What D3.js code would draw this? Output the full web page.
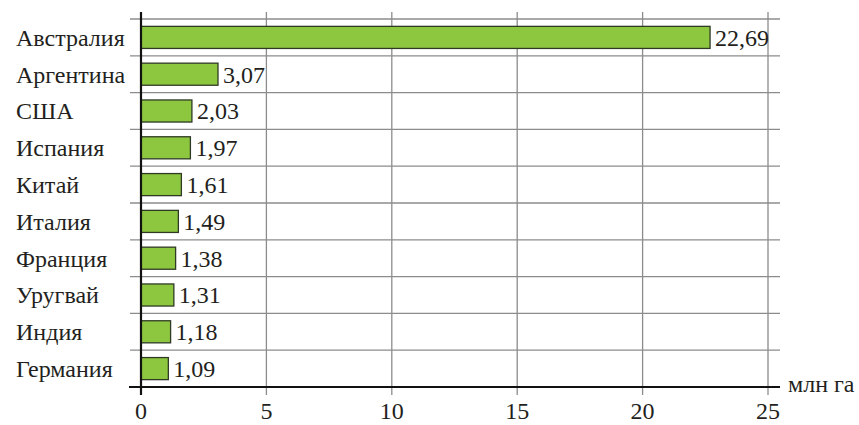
<!DOCTYPE html>
<html><head><meta charset="utf-8">
<script src="https://cdn.jsdelivr.net/npm/d3@7"></script>
<style>body{margin:0;background:#fff} text{font-family:"Liberation Serif","Times New Roman",Times,Tinos,"Noto Serif","DejaVu Serif",serif}</style>
</head><body>
<svg id="c" width="859" height="425"></svg>
<script>
const countries = ["Австралия","Аргентина","США","Испания","Китай","Италия","Франция","Уругвай","Индия","Германия"];
const values = [22.69,3.07,2.03,1.97,1.61,1.49,1.38,1.31,1.18,1.09];
const labels = ["22,69","3,07","2,03","1,97","1,61","1,49","1,38","1,31","1,18","1,09"];
const ticks = [0,5,10,15,20,25];
const unit = "млн га";

const svg = d3.select("#c");
const x = d3.scaleLinear().domain([0,25]).range([141,768]);
const y = d3.scaleBand().domain(countries).range([19,387]).paddingInner(0.4).paddingOuter(0.2);
const step = y.step();
const txtColor = "#231f20";

const bounds = countries.map(c => y(c) - (step - y.bandwidth())/2);
svg.append("g").selectAll("line").data(bounds).join("line")
  .attr("x1",130).attr("x2",780).attr("y1",d=>d).attr("y2",d=>d)
  .attr("stroke","#8c8c8c").attr("stroke-width",1.3);
svg.append("g").selectAll("line").data(ticks.slice(1)).join("line")
  .attr("x1",d=>x(d)).attr("x2",d=>x(d)).attr("y1",12).attr("y2",395)
  .attr("stroke","#8c8c8c").attr("stroke-width",1.3);

svg.append("g").selectAll("rect").data(values).join("rect")
  .attr("x",x(0)).attr("y",(d,i)=>y(countries[i]))
  .attr("width",d=>x(d)-x(0)).attr("height",y.bandwidth())
  .attr("fill","#8dc63f").attr("stroke","#2f3a25").attr("stroke-width",1.3);

svg.append("g").selectAll("text").data(values).join("text")
  .attr("x",d=>x(d)+5).attr("y",(d,i)=>y(countries[i])+y.bandwidth()/2)
  .attr("dy","0.35em").style("font-size","24px").attr("fill",txtColor)
  .text((d,i)=>labels[i]);

svg.append("g").selectAll("text").data(countries).join("text")
  .attr("x",16).attr("y",d=>y(d)+y.bandwidth()/2).attr("dy","0.35em")
  .style("font-size","24px").attr("fill",txtColor)
  .text(d=>d);

svg.append("line").attr("x1",x(0)).attr("x2",x(0)).attr("y1",12).attr("y2",395)
  .attr("stroke","#111").attr("stroke-width",2.2);
svg.append("line").attr("x1",129).attr("x2",780).attr("y1",387).attr("y2",387)
  .attr("stroke","#111").attr("stroke-width",2.2);

svg.append("g").selectAll("text").data(ticks).join("text")
  .attr("x",d=>x(d)).attr("y",419).attr("text-anchor","middle")
  .style("font-size","24px").attr("fill",txtColor)
  .text(d=>d);

svg.append("text").attr("x",788).attr("y",392)
  .style("font-size","24px").attr("fill",txtColor).text(unit);
</script>
</body></html>
